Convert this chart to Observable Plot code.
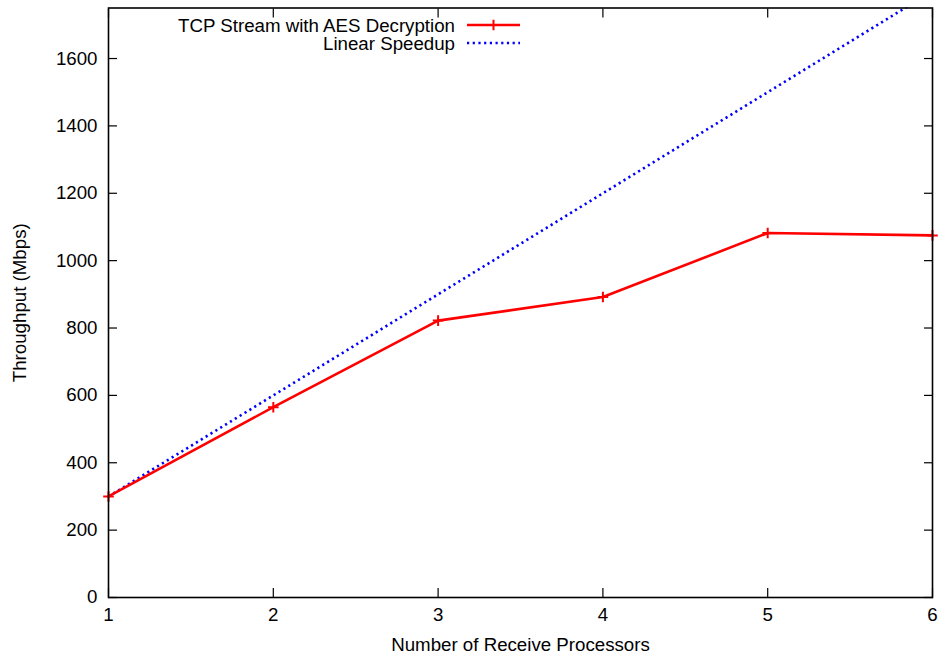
<!DOCTYPE html>
<html>
<head>
<meta charset="utf-8">
<script src="https://cdn.jsdelivr.net/npm/d3@7"></script>
<script src="https://cdn.jsdelivr.net/npm/@observablehq/plot@0.6"></script>
<style>
  html, body { margin: 0; padding: 0; background: #fff; }
  #wrap { position: relative; width: 939px; height: 654px; font-family: "Liberation Sans", Arial, sans-serif; }
  #legend { position: absolute; left: 0; top: 0; pointer-events: none; }
</style>
</head>
<body>
<div id="wrap"></div>
<script>
const processors = [1, 2, 3, 4, 5, 6];
const aesThroughput = [300, 565, 822, 892, 1082, 1075];
const linearSpeedup = [300, 600, 900, 1200, 1500, 1800];
const yTicks = [0, 200, 400, 600, 800, 1000, 1200, 1400, 1600];
const xTicks = [1, 2, 3, 4, 5, 6];
const seriesNames = ["TCP Stream with AES Decryption", "Linear Speedup"];
const seriesColors = ["#ff0000", "#0000ff"];

const aesData = processors.map((p, i) => ({p, v: aesThroughput[i]}));
const linData = processors.map((p, i) => ({p, v: linearSpeedup[i]}));

const font = "Liberation Sans, Arial, sans-serif";
const fs = 18.7;
const fmt = d3.format("d");
const chart = Plot.plot({
  width: 939,
  height: 654,
  marginLeft: 108,
  marginRight: 7,
  marginTop: 7.5,
  marginBottom: 57,
  style: {fontFamily: font, fontSize: fs + "px", color: "#000", background: "#fff", overflow: "visible"},
  x: {domain: [1, 6]},
  y: {domain: [0, 1750]},
  marks: [
    Plot.axisY(yTicks, {anchor: "left", tickSize: 0, tickPadding: 11, tickFormat: fmt, label: "Throughput (Mbps)", labelAnchor: "center", labelOffset: 96, labelArrow: "none", fontSize: fs}),
    Plot.axisY(yTicks, {anchor: "left", tickSize: -9, tickFormat: () => "", label: null, strokeWidth: 1.2}),
    Plot.axisY(yTicks, {anchor: "right", tickSize: -9, tickFormat: () => "", label: null, strokeWidth: 1.2}),
    Plot.axisX(xTicks, {anchor: "bottom", tickSize: 0, tickPadding: 10, tickFormat: fmt, label: "Number of Receive Processors", labelAnchor: "center", labelOffset: 53, labelArrow: "none", fontSize: fs}),
    Plot.axisX(xTicks, {anchor: "bottom", tickSize: -9, tickFormat: () => "", label: null, strokeWidth: 1.2}),
    Plot.axisX(xTicks, {anchor: "top", tickSize: -9, tickFormat: () => "", label: null, strokeWidth: 1.2}),
    Plot.line(linData, {x: "p", y: "v", stroke: seriesColors[1], strokeWidth: 2.6, strokeDasharray: "2.2,3.5", strokeLinecap: "butt", clip: true}),
    Plot.line(aesData, {x: "p", y: "v", stroke: seriesColors[0], strokeWidth: 2.6}),
    Plot.dot(aesData, {x: "p", y: "v", symbol: "plus", r: 3.5, stroke: seriesColors[0], strokeWidth: 2}),
    Plot.frame({stroke: "#000", strokeWidth: 1.6})
  ]
});
document.getElementById("wrap").appendChild(chart);

// Legend overlay (top-left inside the plot)
const leg = d3.select("#wrap").append("svg")
  .attr("id", "legend").attr("width", 939).attr("height", 60);
const rows = [25, 43];
seriesNames.forEach((name, i) => {
  const g = leg.append("g").attr("transform", `translate(0,${rows[i]})`);
  g.append("text").attr("x", 455).attr("y", 0).attr("dy", "0.35em")
    .attr("text-anchor", "end").attr("font-family", font).attr("font-size", fs)
    .attr("fill", "#000").text(name);
  const ln = g.append("line").attr("x1", 467).attr("x2", 520).attr("y1", 0).attr("y2", 0)
    .attr("stroke", seriesColors[i]).attr("stroke-width", 2.6);
  if (i === 1) ln.attr("stroke-dasharray", "2.2,3.5");
  if (i === 0) {
    g.append("path").attr("d", d3.symbol(d3.symbolPlus, Math.PI * 3.5 * 3.5)())
      .attr("transform", "translate(493.5,0)")
      .attr("stroke", seriesColors[0]).attr("stroke-width", 2).attr("fill", "none");
  }
});
</script>
</body>
</html>
